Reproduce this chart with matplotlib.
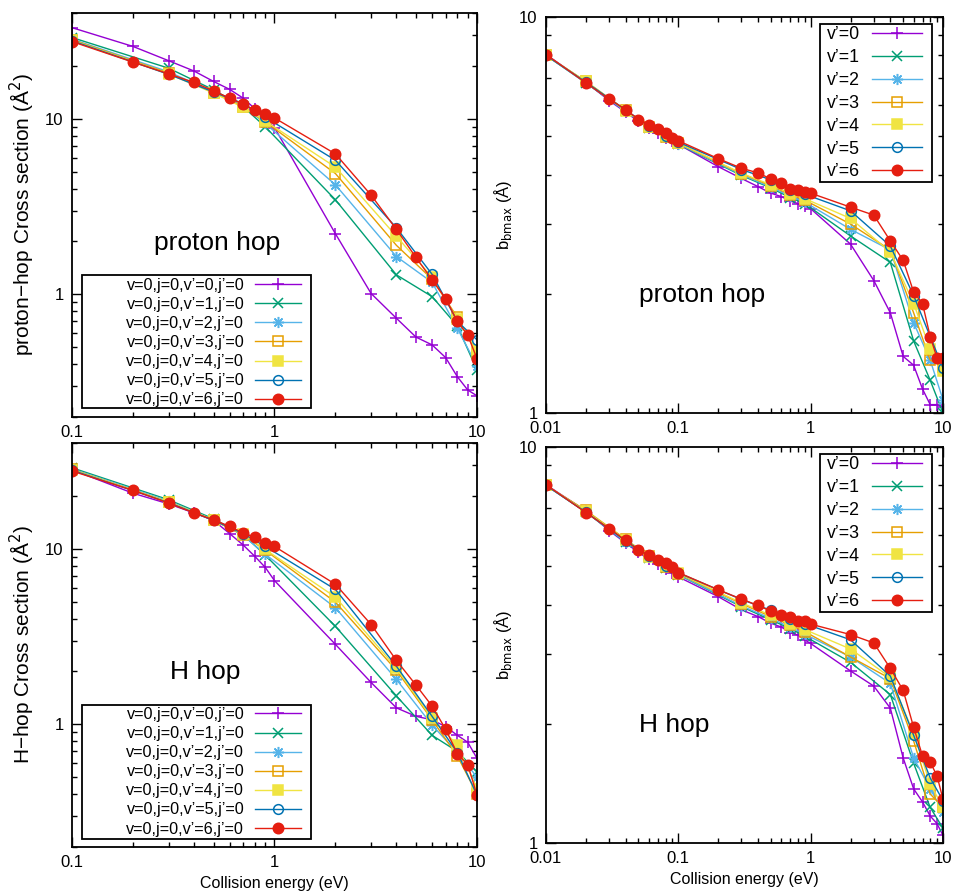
import matplotlib
matplotlib.use('Agg')
import matplotlib.pyplot as plt
from matplotlib.patches import Rectangle
from matplotlib.ticker import LogLocator, FuncFormatter, NullFormatter

plt.rcParams['font.family'] = ['Liberation Sans', 'DejaVu Sans']

# ---------------- data ----------------
E_cs_full = [0.1, 0.2, 0.3, 0.4, 0.5, 0.6, 0.7, 0.8, 0.9, 1, 2, 3, 4, 5, 6, 7, 8, 9, 10]
E_cs_sparse = [0.1, 0.3, 0.5, 0.7, 0.9, 2, 4, 6, 8, 10]
E_b_full = [0.01, 0.02, 0.03, 0.04, 0.05, 0.06, 0.07, 0.08, 0.09,
            0.1, 0.2, 0.3, 0.4, 0.5, 0.6, 0.7, 0.8, 0.9,
            1, 2, 3, 4, 5, 6, 7, 8, 9, 10]
E_b_sparse = [0.01, 0.02, 0.04, 0.06, 0.08, 0.1, 0.3, 0.5, 0.7, 0.9, 2, 4, 6, 8, 10]

# proton hop cross sections
csP_v0 = [33, 25.8, 21.4, 18.7, 16.3, 14.7, 13.1, 11.4, 10.0, 8.9, 2.21, 1.01, 0.73, 0.57, 0.515, 0.436, 0.339, 0.285, 0.264]
csP_v1 = [29, 19.4, 14.6, 11.7, 9.0, 3.45, 1.29, 0.97, 0.66, 0.37]
csP_v2 = [28.4, 18.5, 14.2, 11.8, 9.4, 4.2, 1.64, 1.17, 0.64, 0.39]
csP_v3 = [28.2, 18.2, 14.1, 11.7, 9.6, 4.87, 1.90, 1.22, 0.74, 0.46]
csP_v4 = [28.0, 18.0, 14.0, 11.6, 9.7, 5.3, 2.14, 1.25, 0.72, 0.48]
csP_v5 = [27.8, 17.9, 14.2, 12.2, 10.2, 5.8, 2.39, 1.30, 0.70, 0.55]
csP_v6 = [27.5, 21.0, 18.0, 16.1, 14.4, 13.1, 12.1, 11.2, 10.6, 10.1, 6.3, 3.67, 2.34, 1.62, 1.21, 0.945, 0.70, 0.585, 0.43]

# H hop cross sections
csH_v0 = [28.2, 20.7, 18.0, 16.0, 14.5, 12.2, 10.5, 9.04, 7.83, 6.58, 2.85, 1.73, 1.24, 1.11, 1.06, 0.97, 0.865, 0.79, 0.64]
csH_v1 = [28.9, 19.0, 14.8, 12.0, 9.2, 3.61, 1.45, 0.865, 0.70, 0.536]
csH_v2 = [28.5, 18.7, 14.6, 11.9, 9.3, 4.61, 1.80, 0.99, 0.69, 0.50]
csH_v3 = [28.3, 18.4, 14.5, 12.0, 9.8, 4.96, 2.03, 1.06, 0.66, 0.40]
csH_v4 = [28.2, 18.5, 14.6, 12.1, 9.9, 5.3, 2.09, 1.08, 0.76, 0.43]
csH_v5 = [28.0, 18.3, 14.5, 12.2, 10.3, 5.86, 2.14, 1.11, 0.69, 0.395]
csH_v6 = [27.7, 21.5, 18.2, 16.0, 14.6, 13.4, 12.3, 11.6, 10.8, 10.3, 6.27, 3.7, 2.31, 1.67, 1.27, 0.937, 0.68, 0.59, 0.395]

# proton hop b_max
bP_v0 = [8.04, 6.85, 6.15, 5.75, 5.45, 5.25, 5.1, 4.95, 4.85, 4.77, 4.19, 3.91, 3.73, 3.59, 3.52, 3.43, 3.38, 3.33, 3.28, 2.67, 2.16, 1.79, 1.39, 1.32, 1.15, 1.05, 1.05, 1.035]
bP_v1 = [8.0, 6.82, 5.78, 5.25, 4.97, 4.77, 3.98, 3.70, 3.50, 3.38, 2.80, 2.40, 1.52, 1.21, 1.0]
bP_v2 = [8.0, 6.82, 5.78, 5.26, 4.98, 4.78, 4.00, 3.72, 3.53, 3.41, 2.91, 2.58, 1.69, 1.36, 1.08]
bP_v3 = [8.0, 6.88, 5.82, 5.27, 4.98, 4.80, 4.02, 3.75, 3.56, 3.45, 3.0, 2.58, 1.79, 1.36, 1.31]
bP_v4 = [8.0, 6.88, 5.80, 5.28, 5.0, 4.81, 4.03, 3.77, 3.58, 3.48, 3.1, 2.55, 1.89, 1.45, 1.28]
bP_v5 = [8.0, 6.85, 5.82, 5.30, 5.02, 4.83, 4.12, 3.88, 3.66, 3.57, 3.24, 2.64, 1.98, 1.56, 1.30]
bP_v6 = [8.04, 6.82, 6.2, 5.84, 5.51, 5.35, 5.2, 5.08, 4.96, 4.87, 4.39, 4.15, 4.04, 3.90, 3.82, 3.68, 3.65, 3.62, 3.59, 3.31, 3.16, 2.72, 2.43, 2.02, 1.89, 1.56, 1.38, 1.38]

# H hop b_max
bH_v0 = [8.03, 6.9, 6.15, 5.72, 5.42, 5.2, 5.05, 4.93, 4.82, 4.70, 4.19, 3.88, 3.73, 3.59, 3.51, 3.40, 3.35, 3.26, 3.19, 2.72, 2.49, 2.19, 1.64, 1.37, 1.27, 1.17, 1.12, 1.045]
bH_v1 = [8.0, 6.85, 5.75, 5.25, 4.95, 4.76, 3.95, 3.66, 3.48, 3.33, 2.86, 2.37, 1.59, 1.23, 1.09]
bH_v2 = [8.0, 6.85, 5.76, 5.27, 4.97, 4.77, 3.97, 3.69, 3.51, 3.37, 2.95, 2.53, 1.64, 1.37, 1.20]
bH_v3 = [8.0, 6.92, 5.85, 5.30, 4.98, 4.79, 4.02, 3.73, 3.55, 3.42, 2.95, 2.60, 1.81, 1.33, 1.23]
bH_v4 = [8.0, 6.88, 5.83, 5.29, 5.0, 4.80, 4.04, 3.76, 3.58, 3.46, 3.09, 2.62, 1.89, 1.41, 1.23]
bH_v5 = [8.0, 6.85, 5.80, 5.30, 5.02, 4.81, 4.12, 3.87, 3.67, 3.58, 3.26, 2.64, 1.87, 1.46, 1.28]
bH_v6 = [8.03, 6.83, 6.22, 5.81, 5.48, 5.33, 5.17, 5.08, 4.98, 4.82, 4.36, 4.13, 3.98, 3.85, 3.76, 3.72, 3.64, 3.63, 3.57, 3.36, 3.2, 2.76, 2.43, 1.96, 1.66, 1.60, 1.48, 1.29]

labels_cs = ["v=0,j=0,v\u2019=%d,j\u2019=0" % i for i in range(7)]
labels_b = ["v\u2019=%d" % i for i in range(7)]

# ---------------- style ----------------
colors = ['#9400D3', '#009E73', '#56B4E9', '#E69F00', '#F0E442', '#0072B2', '#E51E10']
markers = ['+', 'x', (8, 2, 0), 's', 's', 'o', 'o']
filled = [True, True, True, False, True, False, True]
msizes = [8, 7, 8, 7, 7, 7, 7.5]

W, H = 954, 896
fig = plt.figure(figsize=(W / 100, H / 100), dpi=100)

def px_axes(l, t, r, b):
    return fig.add_axes([l / W, 1 - b / H, (r - l) / W, (b - t) / H])

ax_tl = px_axes(72, 13, 477, 417)
ax_tr = px_axes(546, 17, 943, 413)
ax_bl = px_axes(72, 443, 477, 847)
ax_br = px_axes(546, 447, 943, 843)

fmt = FuncFormatter(lambda v, _: '%g' % v)

def draw(ax, xfull, xsparse, ys, labels, xlim, ylim, text, tpos,
         box, leg_anchor, lfont, lspacing, hlen, ylabel, yl_size, yl_pad, xlabel):
    for i, y in enumerate(ys):
        x = xfull if i in (0, 6) else xsparse
        ax.plot(x, y, color=colors[i], marker=markers[i], ms=msizes[i], lw=1.0,
                mfc=colors[i] if filled[i] else 'none', mec=colors[i], mew=1.1,
                label=labels[i])
    ax.set_xscale('log')
    ax.set_yscale('log')
    ax.set_xlim(*xlim)
    ax.set_ylim(*ylim)
    ax.xaxis.set_major_locator(LogLocator(base=10, numticks=10))
    ax.xaxis.set_minor_locator(LogLocator(base=10, subs=range(2, 10), numticks=20))
    ax.yaxis.set_major_locator(LogLocator(base=10, numticks=10))
    ax.yaxis.set_minor_locator(LogLocator(base=10, subs=range(2, 10), numticks=20))
    ax.xaxis.set_major_formatter(fmt)
    ax.yaxis.set_major_formatter(fmt)
    ax.xaxis.set_minor_formatter(NullFormatter())
    ax.yaxis.set_minor_formatter(NullFormatter())
    ax.tick_params(which='both', direction='in', top=True, right=True, labelsize=12)
    ax.tick_params(which='major', length=7, width=1.0, pad=6)
    ax.tick_params(which='minor', length=3.5, width=1.0)
    for s in ax.spines.values():
        s.set_linewidth(1.3)
    ax.text(tpos[0], tpos[1], text, transform=ax.transAxes, fontsize=19,
            ha='left', va='center')
    # legend frame drawn as a box, legend contents placed inside
    x0, y0, x1, y1 = box
    ax.add_patch(Rectangle((x0, y0), x1 - x0, y1 - y0, transform=ax.transAxes,
                           facecolor='white', edgecolor='black', lw=1.3,
                           zorder=4, clip_on=False))
    leg = ax.legend(loc='center right', bbox_to_anchor=leg_anchor, borderaxespad=0,
                    markerfirst=False, fontsize=lfont, frameon=False,
                    handlelength=hlen, labelspacing=lspacing, borderpad=0,
                    handletextpad=0.68)
    leg.set_zorder(5)
    if ylabel:
        ax.set_ylabel(ylabel, fontsize=yl_size, labelpad=yl_pad)
    if xlabel:
        ax.set_xlabel(xlabel, fontsize=11.5)

draw(ax_tl, E_cs_full, E_cs_sparse,
     [csP_v0, csP_v1, csP_v2, csP_v3, csP_v4, csP_v5, csP_v6], labels_cs,
     (0.1, 10), (0.2, 40), 'proton hop', (0.2025, 0.43),
     (0.0247, 0.022, 0.590, 0.351), (0.565, 0.184), 11.7, 0.25, 2.8,
     'proton\u2212hop Cross section (\u00c5$^2$)', 15, 6, None)
draw(ax_tr, E_b_full, E_b_sparse,
     [bP_v0, bP_v1, bP_v2, bP_v3, bP_v4, bP_v5, bP_v6], labels_b,
     (0.01, 10), (1, 10), 'proton hop', (0.234, 0.298),
     (0.690, 0.583, 0.972, 0.982), (0.947, 0.782), 12.8, 0.33, 2.8,
     'b$_{\\rm bmax}$ (\u00c5)', 12, 4, None)
draw(ax_bl, E_cs_full, E_cs_sparse,
     [csH_v0, csH_v1, csH_v2, csH_v3, csH_v4, csH_v5, csH_v6], labels_cs,
     (0.1, 10), (0.2, 40), 'H hop', (0.242, 0.433),
     (0.0247, 0.0198, 0.590, 0.3515), (0.565, 0.186), 11.7, 0.25, 2.8,
     'H\u2212hop Cross section (\u00c5$^2$)', 15, 6, 'Collision energy (eV)')
draw(ax_br, E_b_full, E_b_sparse,
     [bH_v0, bH_v1, bH_v2, bH_v3, bH_v4, bH_v5, bH_v6], labels_b,
     (0.01, 10), (1, 10), 'H hop', (0.234, 0.298),
     (0.690, 0.583, 0.972, 0.982), (0.947, 0.782), 12.8, 0.33, 2.8,
     'b$_{\\rm bmax}$ (\u00c5)', 12, 4, 'Collision energy (eV)')

fig.savefig('out.png', dpi=100)
